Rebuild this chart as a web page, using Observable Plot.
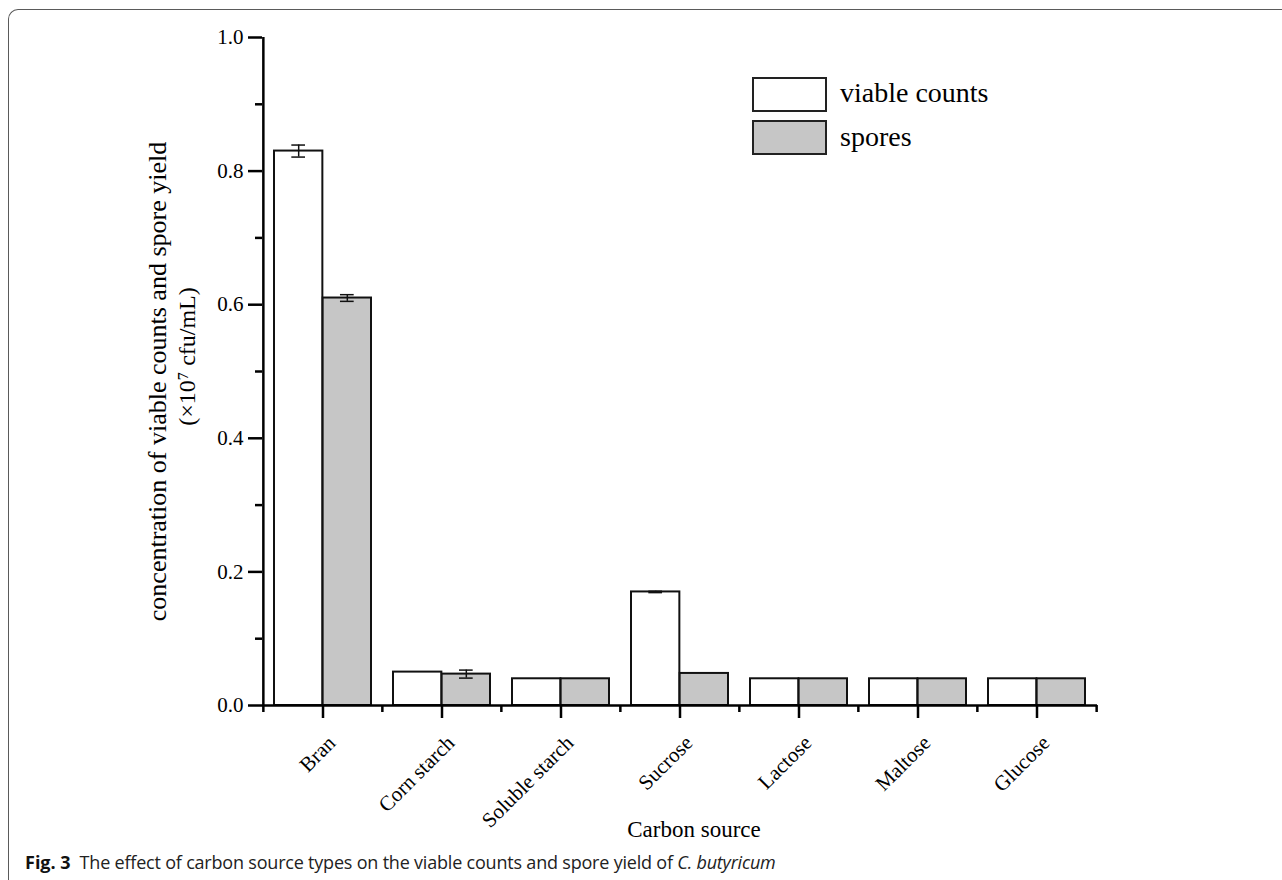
<!DOCTYPE html>
<html><head><meta charset="utf-8">
<script src="https://cdn.jsdelivr.net/npm/d3@7"></script>
<script src="https://cdn.jsdelivr.net/npm/@observablehq/plot@0.6"></script>
<style>
body{margin:0;background:#fff;}
#wrap{position:relative;width:1282px;height:880px;overflow:hidden;font-family:"Liberation Serif","Times New Roman",serif;color:#000;}
#frame{position:absolute;left:8px;top:9px;width:1400px;height:1000px;border-top:1.5px solid #5a5a5a;border-left:1.5px solid #5a5a5a;border-top-left-radius:10px;box-sizing:border-box;}
#chart{position:absolute;left:0;top:0;}
.box{position:absolute;left:752px;width:75px;box-sizing:border-box;border:2px solid #222;}
.lt{position:absolute;left:840px;font-size:28px;line-height:32px;}
#caption{position:absolute;left:25px;top:850px;font-family:"Open Sans",sans-serif;font-size:18px;letter-spacing:-0.2px;color:#222;white-space:nowrap;}
#caption b{font-weight:700;color:#111;letter-spacing:0;}
</style></head>
<body>
<div id="wrap">
  <div id="frame"></div>
  <div id="chart"></div>
  <div class="box" style="top:77px;height:35px;background:#fff;"></div>
  <div class="box" style="top:120px;height:35px;background:#c6c6c6;"></div>
  <div class="lt" id="l1" style="top:77px;"></div>
  <div class="lt" id="l2" style="top:121px;"></div>
  <div id="caption"><b>Fig. 3</b>&nbsp; The effect of carbon source types on the viable counts and spore yield of <i>C. butyricum</i></div>
</div>
<script>
const categories = ["Bran","Corn starch","Soluble starch","Sucrose","Lactose","Maltose","Glucose"];
const viable     = [0.83, 0.05, 0.04, 0.17, 0.04, 0.04, 0.04];
const viableErr  = [0.009, 0, 0, 0.001, 0, 0, 0];
const spores     = [0.61, 0.047, 0.04, 0.048, 0.04, 0.04, 0.04];
const sporesErr  = [0.005, 0.006, 0, 0, 0, 0, 0];
const seriesNames = ["viable counts", "spores"];
const yTicks = [0, 0.2, 0.4, 0.6, 0.8, 1.0];
const yMinor = [0.1, 0.3, 0.5, 0.7, 0.9];
const xTitle = "Carbon source";
const yTitle1 = "concentration of viable counts and spore yield";
const yTitle2 = "(\u00d710\u2077 cfu/mL)";

document.getElementById("l1").textContent = seriesNames[0];
document.getElementById("l2").textContent = seriesNames[1];

const W = 1282, H = 880, ML = 262, MR = 185, MT = 37, MB = 175;
const step = (W - ML - MR) / categories.length;
const outer = 11;
const off = (step / 2 - outer) / 2;
const cap = 7;

const rowsV = categories.map((c, i) => ({cat: c, v: viable[i], e: viableErr[i]}));
const rowsS = categories.map((c, i) => ({cat: c, v: spores[i], e: sporesErr[i]}));
const errV = rowsV.filter(d => d.e > 0);
const errS = rowsS.filter(d => d.e > 0);

const chart = Plot.plot({
  width: W, height: H,
  marginLeft: ML, marginRight: MR, marginTop: MT, marginBottom: MB,
  style: {fontFamily: '"Liberation Serif","Times New Roman",serif', color: "#000", background: "transparent"},
  x: {domain: categories, padding: 0, axis: null},
  y: {domain: [0, 1], axis: null},
  marks: [
    Plot.barY(rowsV, {x: "cat", y: "v", fill: "white", stroke: "#111", strokeWidth: 2, insetLeft: outer, insetRight: step / 2}),
    Plot.barY(rowsS, {x: "cat", y: "v", fill: "#c6c6c6", stroke: "#111", strokeWidth: 2, insetLeft: step / 2, insetRight: outer}),
    Plot.ruleX(errV, {x: "cat", y1: d => d.v - d.e, y2: d => d.v + d.e, dx: -off, stroke: "#111", strokeWidth: 1.5}),
    Plot.tickY(errV, {x: "cat", y: d => d.v + d.e, insetLeft: step / 2 - off - cap, insetRight: step / 2 + off - cap, stroke: "#111", strokeWidth: 1.5}),
    Plot.tickY(errV, {x: "cat", y: d => d.v - d.e, insetLeft: step / 2 - off - cap, insetRight: step / 2 + off - cap, stroke: "#111", strokeWidth: 1.5}),
    Plot.ruleX(errS, {x: "cat", y1: d => d.v - d.e, y2: d => d.v + d.e, dx: off, stroke: "#111", strokeWidth: 1.5}),
    Plot.tickY(errS, {x: "cat", y: d => d.v + d.e, insetLeft: step / 2 + off - cap, insetRight: step / 2 - off - cap, stroke: "#111", strokeWidth: 1.5}),
    Plot.tickY(errS, {x: "cat", y: d => d.v - d.e, insetLeft: step / 2 + off - cap, insetRight: step / 2 - off - cap, stroke: "#111", strokeWidth: 1.5}),
    // axis lines
    Plot.ruleY([0], {stroke: "#000", strokeWidth: 2.5}),
    Plot.ruleX([categories[0]], {dx: -step / 2, stroke: "#000", strokeWidth: 2.5}),
    // y axis ticks
    Plot.axisY({ticks: yTicks, tickSize: 14, tickPadding: 5, tickFormat: d3.format(".1f"), fontSize: 21, strokeWidth: 2.5, label: null}),
    Plot.axisY({ticks: yMinor, tickSize: 7, tickFormat: () => "", strokeWidth: 2.5, label: null}),
    // x axis ticks
    Plot.axisX({tickSize: 13, tickFormat: () => "", strokeWidth: 2.5, label: null}),
    Plot.axisX({tickSize: 7, tickFormat: () => "", strokeWidth: 2.5, label: null, dx: -step / 2}),
    Plot.axisX({ticks: [categories[categories.length - 1]], tickSize: 7, tickFormat: () => "", strokeWidth: 2.5, label: null, dx: step / 2}),
    // category labels
    Plot.text(categories, {x: d => d, y: 0, text: d => d, rotate: -45, textAnchor: "end", lineAnchor: "middle", dx: 9, dy: 34, fontSize: 21}),
    // titles
    Plot.text([xTitle], {frameAnchor: "bottom", text: d => d, textAnchor: "middle", lineAnchor: "middle", dx: 14, dy: 124, fontSize: 23}),
    Plot.text([yTitle1], {frameAnchor: "left", text: d => d, rotate: -90, textAnchor: "middle", lineAnchor: "middle", dx: -105, dy: 10, fontSize: 26}),
    Plot.text([yTitle2], {frameAnchor: "left", text: d => d, rotate: -90, textAnchor: "middle", lineAnchor: "middle", dx: -75, dy: -15, fontSize: 24})
  ]
});
document.getElementById("chart").appendChild(chart);
</script>
</body></html>
